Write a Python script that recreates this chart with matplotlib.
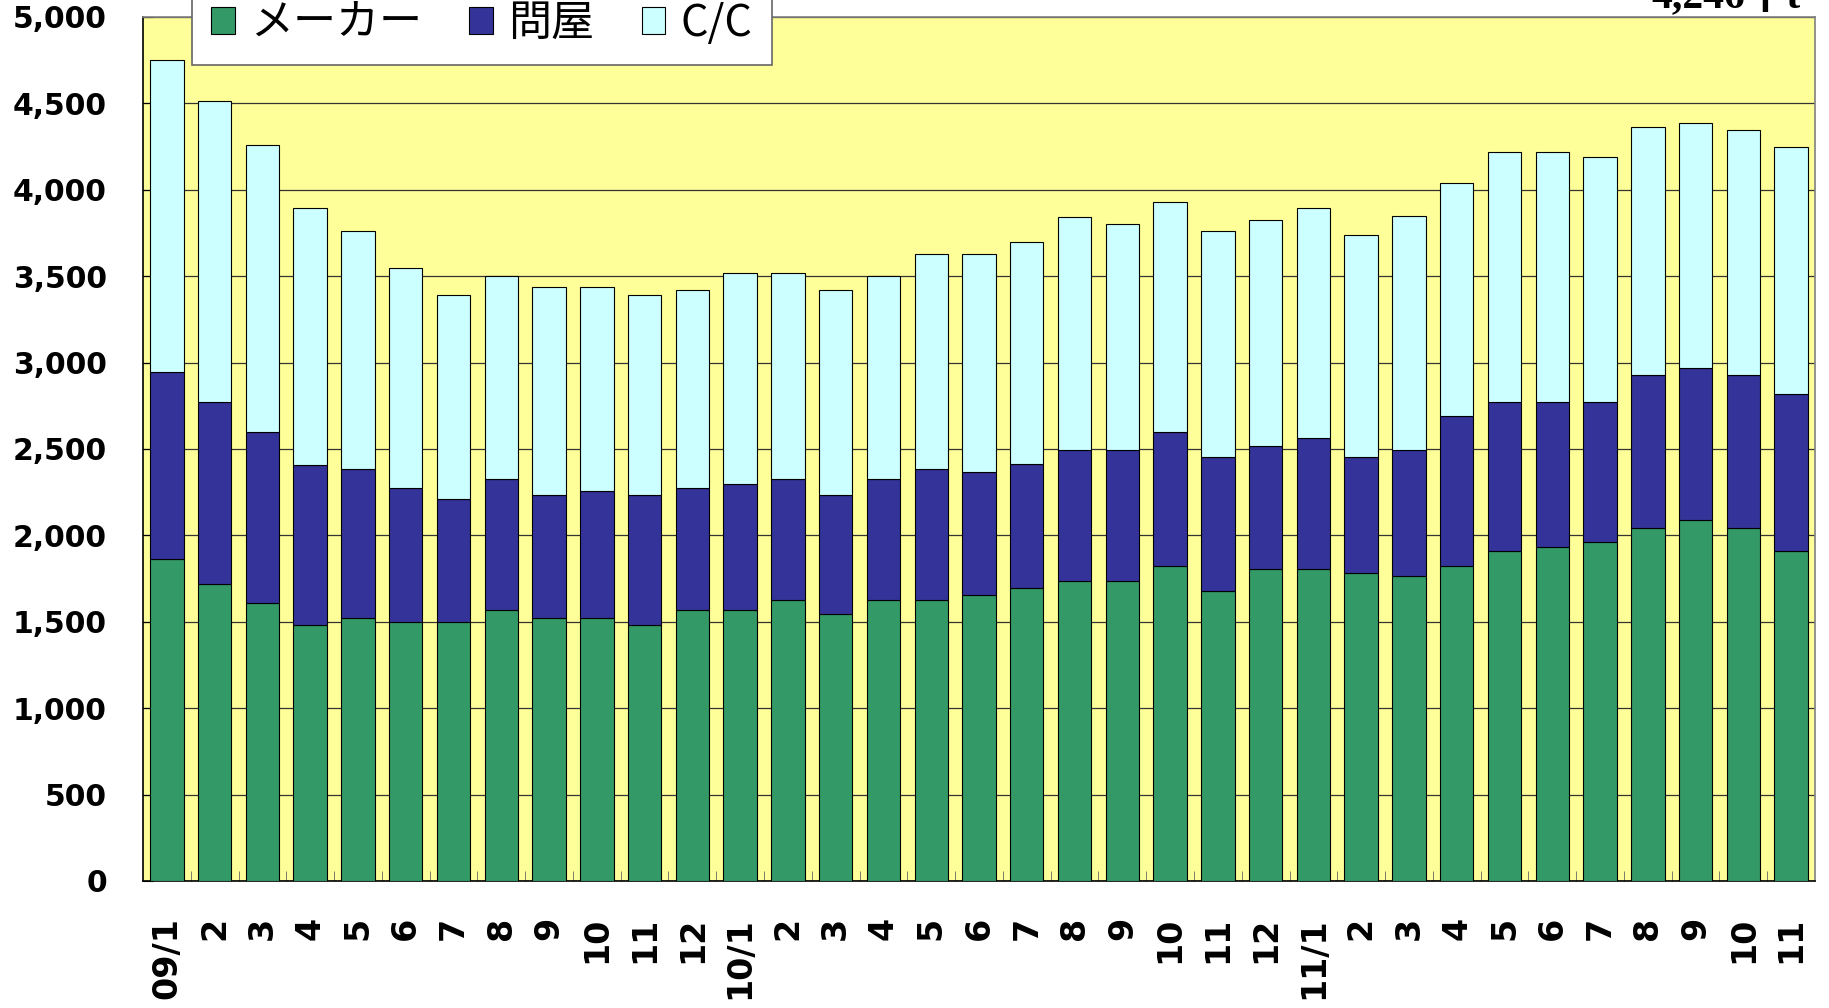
import numpy as np
import matplotlib.pyplot as plt
from matplotlib.ticker import FuncFormatter, FixedLocator

# months 2009/1 - 2011/11
months = ['09/1', '2', '3', '4', '5', '6', '7', '8', '9', '10', '11', '12',
          '10/1', '2', '3', '4', '5', '6', '7', '8', '9', '10', '11', '12',
          '11/1', '2', '3', '4', '5', '6', '7', '8', '9', '10', '11']

# stocks by holder (thousand t)
maker = [1865, 1716, 1608, 1480, 1520, 1500, 1500, 1568, 1520, 1520, 1480, 1568,
         1568, 1628, 1547, 1628, 1628, 1655, 1696, 1736, 1736, 1824, 1676, 1804,
         1804, 1784, 1764, 1824, 1912, 1932, 1959, 2041, 2088, 2041, 1912]
tonya = [1081, 1054, 993, 925, 865, 777, 709, 756, 716, 737, 756, 709,
         729, 696, 689, 696, 757, 710, 716, 757, 757, 777, 777, 716,
         757, 669, 729, 865, 858, 838, 811, 885, 878, 885, 906]
cc = [1804, 1744, 1656, 1487, 1379, 1270, 1183, 1176, 1203, 1182, 1156, 1142,
      1223, 1196, 1183, 1176, 1243, 1263, 1284, 1352, 1311, 1331, 1311, 1304,
      1331, 1284, 1358, 1352, 1446, 1446, 1419, 1439, 1419, 1419, 1428]
labels = ['メーカー', '問屋', 'C/C']
latest = '4,246千t'

W, H = 1829, 1008
fig = plt.figure(figsize=(W / 100, H / 100), dpi=100)
ax = fig.add_axes([143 / W, 1 - 881 / H, (1815 - 143) / W, (881 - 17) / H])
ax.set_facecolor('#FFFF99')

x = np.arange(len(months))
bottom2 = np.array(maker)
bottom3 = bottom2 + np.array(tonya)
kw = dict(width=0.7, edgecolor='black', linewidth=0.8, zorder=3)
ax.bar(x, maker, color='#339966', label=labels[0], **kw)
ax.bar(x, tonya, bottom=bottom2, color='#333399', label=labels[1], **kw)
ax.bar(x, cc, bottom=bottom3, color='#CCFFFF', label=labels[2], **kw)

ax.set_xlim(-0.5, len(months) - 0.5)
ax.set_ylim(0, 5000)
ax.set_yticks(np.arange(0, 5001, 500))
ax.yaxis.set_major_formatter(FuncFormatter(lambda v, p: f'{int(v):,}'))
ax.grid(axis='y', color='#333333', linewidth=0.9, zorder=1)
ax.set_axisbelow(True)

ax.set_xticks(x)
ax.set_xticklabels(months, rotation=90, va='top', ha='center')
ax.xaxis.set_minor_locator(FixedLocator(np.arange(0.5, len(months) - 1, 1)))
ax.tick_params(axis='x', which='major', length=0, pad=26, labelsize=24)
ax.tick_params(axis='x', which='minor', direction='in', length=7, color='#666666')
ax.tick_params(axis='y', direction='in', length=7, pad=26, labelsize=21.5)
for t in ax.get_xticklabels() + ax.get_yticklabels():
    t.set_fontweight('bold')

for s in ['left', 'bottom']:
    ax.spines[s].set_color('black')
    ax.spines[s].set_linewidth(1.2)
for s in ['top', 'right']:
    ax.spines[s].set_color('#808080')
    ax.spines[s].set_linewidth(1.2)

leg = fig.legend(loc='lower left', bbox_to_anchor=(192 / W, 1 - 65 / H),
                 ncol=3, frameon=True, fancybox=False, shadow=False,
                 prop={'family': ['Noto Sans CJK JP', 'DejaVu Sans'], 'size': 31},
                 handlelength=0.55, handleheight=0.62, handletextpad=0.35,
                 columnspacing=1.1, borderpad=0.45, borderaxespad=0)
leg.get_frame().set_edgecolor('#666666')
leg.get_frame().set_linewidth(1.2)
leg.get_frame().set_facecolor('white')
leg.get_frame().set_alpha(1)
leg.set_zorder(5)

fig.text(1800 / W, 1 - 8 / H, latest, ha='right', va='baseline', fontsize=30,
         fontweight='bold', family=['Liberation Serif', 'Noto Sans CJK JP'])

fig.savefig('out.png', dpi=100)
